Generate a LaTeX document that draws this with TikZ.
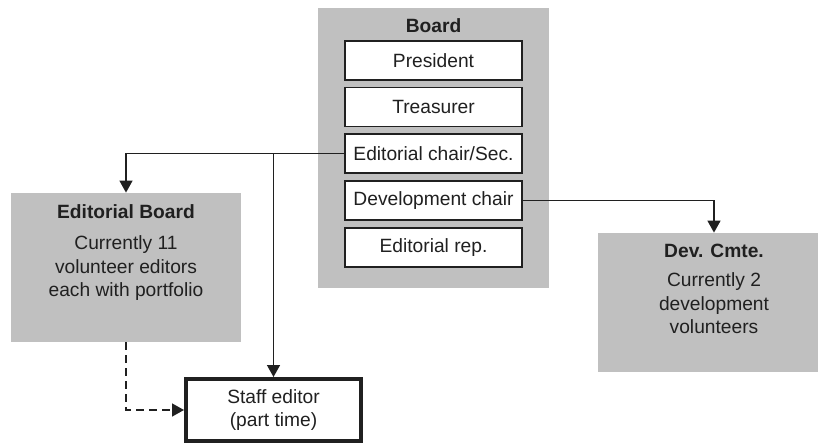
\documentclass[tikz,border=0pt]{standalone}
\usepackage{fontspec}
\setmainfont{Liberation Sans}
\usetikzlibrary{arrows.meta,positioning}
\definecolor{boxgray}{HTML}{C0C0C0}
\definecolor{ink}{HTML}{202020}
\tikzset{
  panel/.style={fill=boxgray, draw=none, inner sep=0pt},
  paneltext/.style={align=center, inner sep=0pt, text=ink},
  rolebox/.style={draw=ink, fill=white, line width=0.75pt, text=ink,
    minimum width=88.5pt, minimum height=19.5pt, inner sep=0pt},
  link/.style={draw=ink, line width=0.75pt, -{Triangle[width=6.5pt,length=6pt]}},
}

\begin{document}
\begin{tikzpicture}[x=0.5pt, y=-0.5pt, font=\fontsize{9.6}{11.7}\selectfont]
  \clip (0,0) rectangle (818,445);
  % Board with its officers
  \node[panel, minimum width=115.5pt, minimum height=140pt] (board) at (433.5,148) {};
  \node[paneltext, below=5.5pt of board.north] (boardtitle) {\textbf{Board}};
  \node[rolebox] (pres) at (433.5,60.5) {President};
  \node[rolebox] (treas) at (433.5,107) {Treasurer};
  \node[rolebox] (edchair) at (433.5,153.5) {Editorial chair/Sec.};
  \node[rolebox] (devchair) at (433.5,200.5) {Development chair};
  \node[rolebox] (edrep) at (433.5,247.5) {Editorial rep.};
  % Editorial board
  \node[panel, minimum width=115pt, minimum height=74.5pt] (edboard) at (126,267.5) {};
  \node[paneltext, below=6pt of edboard.north] (edboardtext)
    {\textbf{Editorial Board}\\[3.8pt] Currently 11\\ volunteer editors\\ each with portfolio};
  % Development committee
  \node[panel, minimum width=116pt, minimum height=69.5pt] (devcmte) at (714,302.5) {};
  \node[paneltext, below=5.5pt of devcmte.north] (devcmtetext)
    {\textbf{Dev. Cmte.}\\[3pt] Currently 2\\ development\\ volunteers};
  % Staff editor
  \node[rolebox, line width=2pt, minimum width=87.5pt, minimum height=31pt, align=center]
    (staff) at (273.5,410) {Staff editor\\ (part time)};
  % Connectors
  \coordinate (branch) at (staff.north |- edchair.west);
  \draw[link] (edchair.west) -| (edboard.north);
  \draw[link] (branch) -- (staff.north);
  \draw[link] (devchair.east) -| (devcmte.north);
  \draw[link, dash pattern=on 4pt off 2.5pt] (edboard.south) |- (staff.west);
\end{tikzpicture}
\end{document}
